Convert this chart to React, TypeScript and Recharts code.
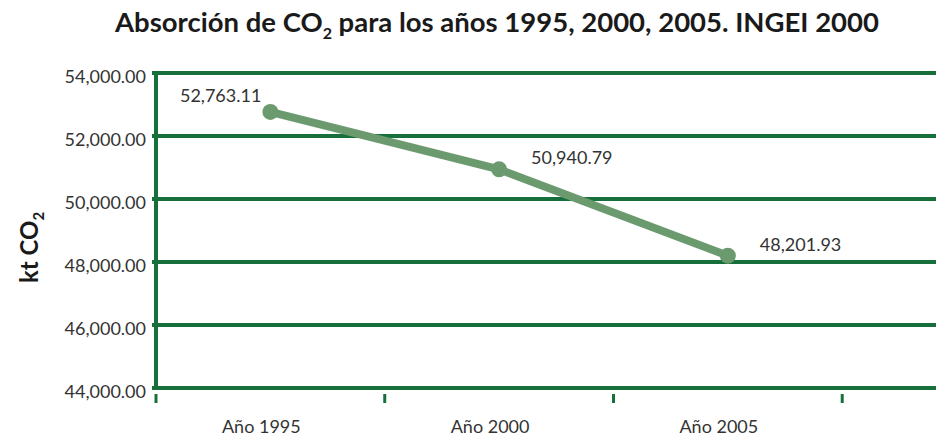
import React from "react";
import { LineChart, Line, XAxis, YAxis, CartesianGrid, LabelList } from "recharts";

const categories = ["Año 1995", "Año 2000", "Año 2005"];
const absorption = [52763.11, 50940.79, 48201.93];
const yTicks = [44000, 46000, 48000, 50000, 52000, 54000];

const data = categories.map((c, i) => ({ x: i + 0.5, name: c, value: absorption[i] }));
const xTicks = [0, 0.5, 1, 1.5, 2, 2.5, 3];

const GRID = "#17703b";
const LINE = "#6b9a6f";
const TEXT = "#333333";
const FONT = "Lato, 'Open Sans', sans-serif";

const fmt = (v: number) =>
  v.toLocaleString("en-US", { minimumFractionDigits: 2, maximumFractionDigits: 2 });

const XTick = (props: any) => {
  const { x, y, payload } = props;
  const v = payload.value as number;
  if (Number.isInteger(v)) {
    return <line x1={x} x2={x} y1={y - 2} y2={y + 7} stroke={GRID} strokeWidth={3} />;
  }
  const idx = Math.floor(v);
  return (
    <text x={x - 9} y={y + 37} textAnchor="middle" fill={TEXT} fontSize={18} fontFamily={FONT}>
      {categories[idx]}
    </text>
  );
};

const YTick = (props: any) => {
  const { x, y, payload } = props;
  return (
    <text x={x} y={y + 10} textAnchor="end" fill={TEXT} fontSize={18} fontFamily={FONT}>
      {fmt(payload.value)}
    </text>
  );
};

const PointLabel = (props: any) => {
  const { x, y, value, index } = props;
  const first = index === 0;
  return (
    <text
      x={first ? x - 9 : x + 32}
      y={first ? y - 10 : y - 5}
      textAnchor={first ? "end" : "start"}
      fill={TEXT}
      fontSize={18}
      fontFamily={FONT}
    >
      {fmt(value)}
    </text>
  );
};

const YLabel = (props: any) => {
  const { viewBox } = props;
  const cx = viewBox.x + 38;
  const cy = viewBox.y + viewBox.height / 2 + 17;
  return (
    <text
      transform={`translate(${cx},${cy}) rotate(-90)`}
      textAnchor="middle"
      fill="#1a1a1a"
      fontSize={24}
      fontWeight={700}
      fontFamily={FONT}
    >
      kt CO<tspan dy={6} fontSize={15}>2</tspan>
    </text>
  );
};

export default function App() {
  return (
    <div style={{ position: "absolute", left: 0, top: 0, width: 936, height: 437, background: "#fff" }}>
      <LineChart
        width={936}
        height={437}
        data={data}
        margin={{ top: 73, right: 0, bottom: 0, left: 0 }}
      >
        <CartesianGrid horizontal vertical={false} stroke={GRID} strokeWidth={4} />
        <XAxis
          dataKey="x"
          type="number"
          domain={[0, 3.41]}
          ticks={xTicks}
          interval={0}
          height={49}
          axisLine={{ stroke: GRID, strokeWidth: 4 }}
          tickLine={false}
          tick={<XTick />}
          allowDataOverflow
        />
        <YAxis
          domain={[44000, 54000]}
          ticks={yTicks}
          interval={0}
          width={156}
          axisLine={{ stroke: GRID, strokeWidth: 4 }}
          tickLine={{ stroke: GRID, strokeWidth: 4 }}
          tickSize={4}
          tickMargin={6}
          tick={<YTick />}
          label={<YLabel />}
        />
        <Line
          dataKey="value"
          stroke={LINE}
          strokeWidth={8}
          dot={{ r: 8, fill: LINE, stroke: LINE, strokeWidth: 0 }}
          activeDot={false}
          isAnimationActive={false}
        >
          <LabelList dataKey="value" content={<PointLabel />} />
        </Line>
      </LineChart>
      <svg width={936} height={60} style={{ position: "absolute", left: 0, top: 0 }}>
        <text
          x={497}
          y={32}
          textAnchor="middle"
          fill="#1a1a1a"
          fontSize={27.5}
          fontWeight={700}
          fontFamily={FONT}
        >
          Absorción de CO<tspan dy={7} fontSize={16}>2</tspan>
          <tspan dy={-7}> para los años 1995, 2000, 2005. INGEI 2000</tspan>
        </text>
      </svg>
    </div>
  );
}
